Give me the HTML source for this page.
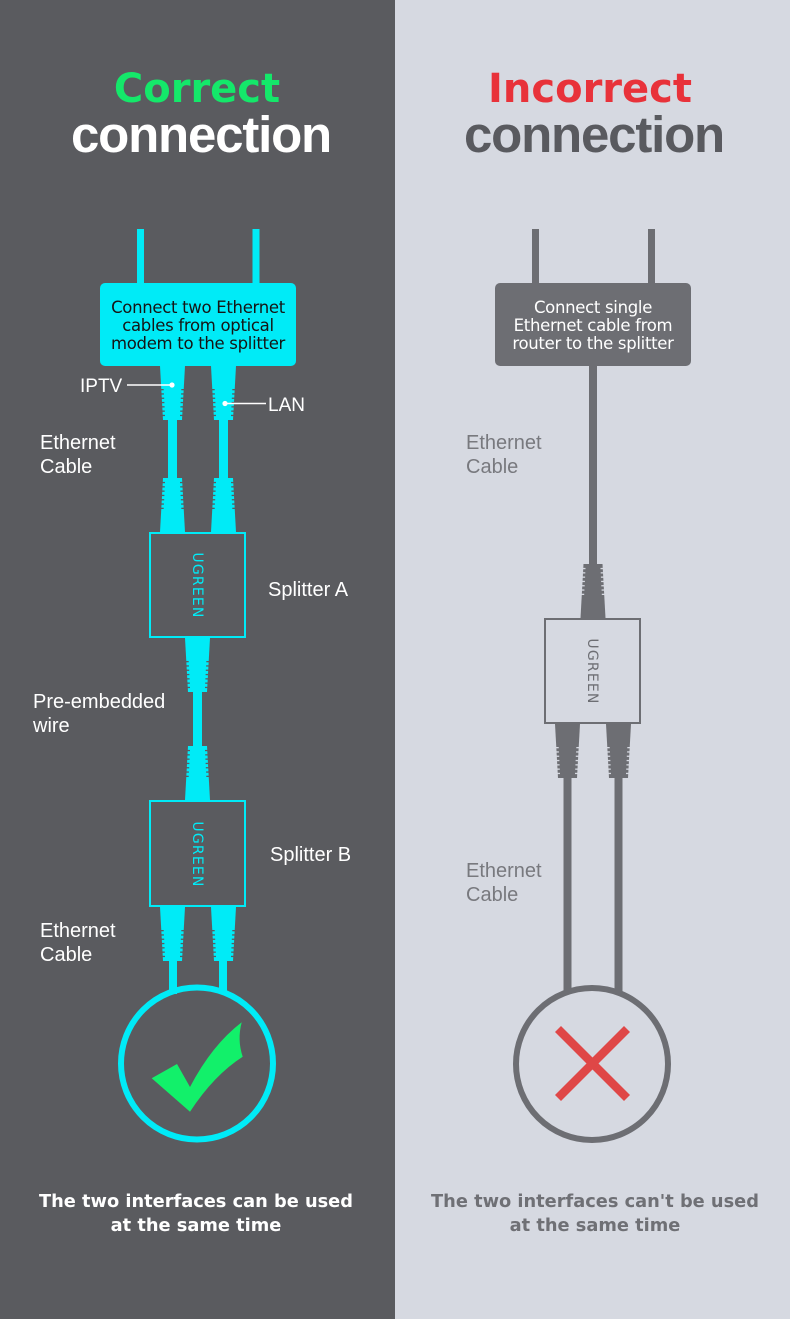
<!DOCTYPE html>
<html><head><meta charset="utf-8"><style>
html,body{margin:0;padding:0;}
body{width:790px;height:1319px;overflow:hidden;background:#d6d9e1;}
svg{display:block;}
</style></head><body>
<svg width="790" height="1319" viewBox="0 0 790 1319" xmlns="http://www.w3.org/2000/svg">
<defs>
<g id="plug">
<polygon points="-12.5,0 12.5,0 9.5,54 -9.5,54"/>
<g fill="currentColor">
<rect x="-13" y="23" width="4.2" height="1.3"/><rect x="8.8" y="23" width="4.2" height="1.3"/>
<rect x="-13" y="27.3" width="4.4" height="1.3"/><rect x="8.6" y="27.3" width="4.4" height="1.3"/>
<rect x="-13" y="31.6" width="4.7" height="1.3"/><rect x="8.3" y="31.6" width="4.7" height="1.3"/>
<rect x="-13" y="35.9" width="4.9" height="1.3"/><rect x="8.1" y="35.9" width="4.9" height="1.3"/>
<rect x="-13" y="40.2" width="5.1" height="1.3"/><rect x="7.9" y="40.2" width="5.1" height="1.3"/>
<rect x="-13" y="44.5" width="5.3" height="1.3"/><rect x="7.7" y="44.5" width="5.3" height="1.3"/>
<rect x="-13" y="48.8" width="5.5" height="1.3"/><rect x="7.5" y="48.8" width="5.5" height="1.3"/>
</g>
</g>
</defs>

<!-- backgrounds -->
<rect x="0" y="0" width="395" height="1319" fill="#5a5b5f"/>
<rect x="395" y="0" width="395" height="1319" fill="#d6d9e1"/>

<!-- Headings -->
<text x="197" y="102" text-anchor="middle" font-family="DejaVu Sans, sans-serif" font-weight="bold" font-size="40" fill="#14e86a">Correct</text>
<text x="201" y="152" text-anchor="middle" font-family="Liberation Sans, sans-serif" font-weight="bold" font-size="51" letter-spacing="-1.2" fill="#ffffff">connection</text>
<text x="590" y="102" text-anchor="middle" font-family="DejaVu Sans, sans-serif" font-weight="bold" font-size="40" fill="#e8323a">Incorrect</text>
<text x="594" y="152" text-anchor="middle" font-family="Liberation Sans, sans-serif" font-weight="bold" font-size="51" letter-spacing="-1.2" fill="#595a5f">connection</text>

<!-- LEFT diagram -->
<g fill="#00ebf7">
<rect x="137" y="229" width="7" height="60"/>
<rect x="252.5" y="229" width="7" height="60"/>
<rect x="168" y="416" width="9" height="66"/>
<rect x="219" y="416" width="9" height="66"/>
<rect x="193" y="688" width="9" height="62"/>
<rect x="169" y="958" width="8" height="36"/>
<rect x="219" y="958" width="8" height="36"/>
</g>
<g fill="#00ebf7" color="#5a5b5f">
<use href="#plug" transform="translate(172.5,366)"/>
<use href="#plug" transform="translate(223.5,366)"/>
<use href="#plug" transform="translate(172.5,532) scale(1,-1)"/>
<use href="#plug" transform="translate(223.5,532) scale(1,-1)"/>
<use href="#plug" transform="translate(197.5,638)"/>
<use href="#plug" transform="translate(197.5,800) scale(1,-1)"/>
<use href="#plug" transform="translate(172.5,907)"/>
<use href="#plug" transform="translate(223.5,907)"/>
</g>
<rect x="100" y="283" width="196" height="83" rx="5" fill="#00ebf7"/>
<g font-family="DejaVu Sans, sans-serif" font-size="16.5" letter-spacing="-0.3" fill="#151515" text-anchor="middle">
<text x="198" y="313">Connect two Ethernet</text>
<text x="198" y="331">cables from optical</text>
<text x="198" y="349">modem to the splitter</text>
</g>
<rect x="150" y="533" width="95" height="104" fill="#5a5b5f" stroke="#00ebf7" stroke-width="2"/>
<rect x="150" y="801" width="95" height="105" fill="#5a5b5f" stroke="#00ebf7" stroke-width="2"/>
<g font-family="DejaVu Sans, sans-serif" font-size="14" letter-spacing="1.2" fill="#00ebf7" text-anchor="middle">
<text transform="translate(197,585.5) rotate(90)" dominant-baseline="central">UGREEN</text>
<text transform="translate(197,854.5) rotate(90)" dominant-baseline="central">UGREEN</text>
</g>
<circle cx="197" cy="1063.5" r="76" fill="none" stroke="#00ebf7" stroke-width="6"/>
<path d="M151.7,1078.3 L177,1064 L190,1087 Q212,1045 241.7,1022.3 Q237,1040 242.7,1056.7 Q214,1075 190,1111.7 Z" fill="#12f06a"/>

<!-- left label pointers -->
<g stroke="#ffffff" stroke-width="1.4">
<line x1="127" y1="385" x2="172" y2="385"/>
<line x1="225" y1="403.5" x2="266" y2="403.5"/>
</g>
<circle cx="172" cy="385" r="2.6" fill="#fff"/>
<circle cx="225" cy="403.5" r="2.6" fill="#fff"/>

<g font-family="Liberation Sans, sans-serif" font-size="20" fill="#ffffff">
<text x="80" y="392" font-size="19">IPTV</text>
<text x="268" y="411" font-size="19">LAN</text>
<text x="40" y="449">Ethernet</text>
<text x="40" y="473">Cable</text>
<text x="268" y="596">Splitter A</text>
<text x="33" y="708">Pre-embedded</text>
<text x="33" y="732">wire</text>
<text x="270" y="861">Splitter B</text>
<text x="40" y="937">Ethernet</text>
<text x="40" y="961">Cable</text>
</g>

<g font-family="DejaVu Sans, sans-serif" font-weight="bold" font-size="17.8" fill="#ffffff" text-anchor="middle">
<text x="196" y="1207">The two interfaces can be used</text>
<text x="196" y="1231">at the same time</text>
</g>

<!-- RIGHT diagram -->
<g fill="#6d6e73">
<rect x="532" y="229" width="7" height="60"/>
<rect x="648" y="229" width="7" height="60"/>
<rect x="589" y="360" width="8" height="208"/>
<rect x="563.5" y="775" width="8" height="219"/>
<rect x="614.5" y="775" width="8" height="219"/>
</g>
<g fill="#6d6e73" color="#d6d9e1">
<use href="#plug" transform="translate(593,618) scale(1,-1)"/>
<use href="#plug" transform="translate(567.5,724)"/>
<use href="#plug" transform="translate(618.5,724)"/>
</g>
<rect x="495" y="283" width="196" height="83" rx="5" fill="#6d6e73"/>
<g font-family="DejaVu Sans, sans-serif" font-size="16.5" letter-spacing="-0.3" fill="#ffffff" text-anchor="middle">
<text x="593" y="313">Connect single</text>
<text x="593" y="331">Ethernet cable from</text>
<text x="593" y="349">router to the splitter</text>
</g>
<rect x="545" y="619" width="95" height="104" fill="#d6d9e1" stroke="#6d6e73" stroke-width="2"/>
<text transform="translate(592,671.5) rotate(90)" dominant-baseline="central" font-family="DejaVu Sans, sans-serif" font-size="14" letter-spacing="1.2" fill="#6d6e73" text-anchor="middle">UGREEN</text>
<circle cx="592" cy="1064" r="76" fill="none" stroke="#6d6e73" stroke-width="6"/>
<g stroke="#df4747" stroke-width="8.5">
<line x1="558" y1="1029" x2="627" y2="1098"/>
<line x1="627" y1="1029" x2="558" y2="1098"/>
</g>

<g font-family="Liberation Sans, sans-serif" font-size="20" fill="#78797e">
<text x="466" y="449">Ethernet</text>
<text x="466" y="473">Cable</text>
<text x="466" y="877">Ethernet</text>
<text x="466" y="901">Cable</text>
</g>

<g font-family="DejaVu Sans, sans-serif" font-weight="bold" font-size="17.8" fill="#6f7075" text-anchor="middle">
<text x="595" y="1207">The two interfaces can't be used</text>
<text x="595" y="1231">at the same time</text>
</g>
</svg>
</body></html>
